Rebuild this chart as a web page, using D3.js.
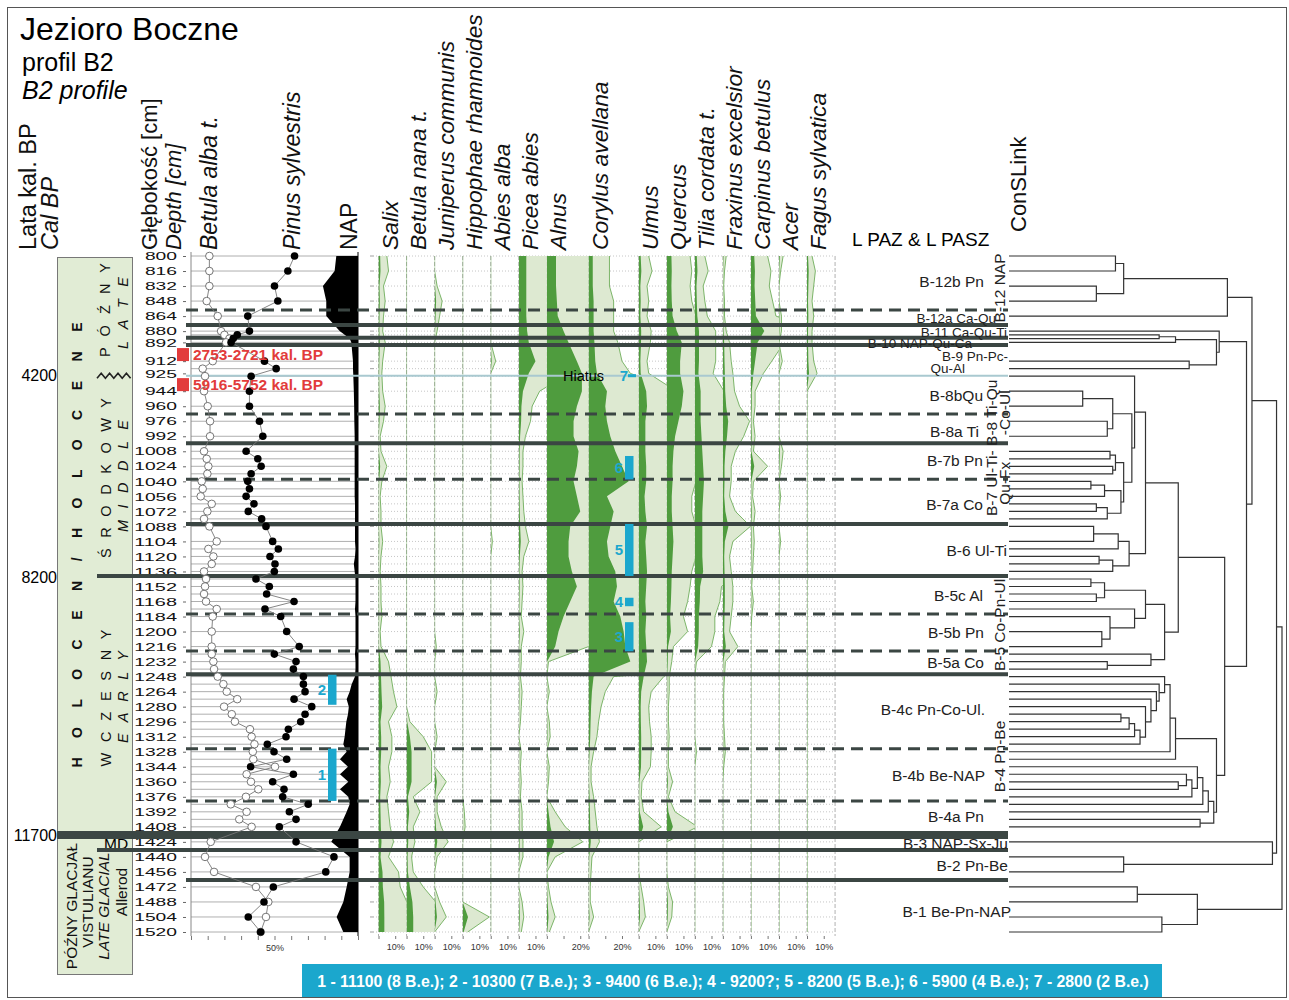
<!DOCTYPE html>
<html>
<head>
<meta charset="utf-8">
<script src="https://cdn.jsdelivr.net/npm/d3@7"></script>
<style>
  body { margin: 0; background: #fff; }
  svg { display: block; }
  text { font-family: Arial, "Liberation Sans", sans-serif; }
</style>
</head>
<body>
<div id="chart"></div>
<script>
// depth labels (cm); the pollen taxa are read at these depths too
const depthTicks = [800, 816, 832, 848, 864, 880, 892, 912, 925, 944, 960, 976, 992, 1008, 1024, 1040, 1056, 1072, 1088, 1104, 1120, 1136, 1152, 1168, 1184, 1200, 1216, 1232, 1248, 1264, 1280, 1296, 1312, 1328, 1344, 1360, 1376, 1392, 1408, 1424, 1440, 1456, 1472, 1488, 1504, 1520];
const taxaDepths = depthTicks;

// samples of the Betula / Pinus / NAP curves
const bpDepths = [800, 816, 832, 848, 864, 880, 884, 888, 892, 912, 920, 928, 944, 960, 976, 992, 1008, 1016, 1024, 1032, 1040, 1048, 1056, 1064, 1072, 1080, 1088, 1104, 1112, 1120, 1128, 1136, 1144, 1152, 1160, 1168, 1176, 1184, 1200, 1216, 1224, 1232, 1240, 1248, 1256, 1264, 1272, 1280, 1288, 1296, 1304, 1312, 1320, 1328, 1336, 1344, 1352, 1360, 1368, 1376, 1384, 1392, 1400, 1408, 1424, 1440, 1456, 1472, 1488, 1504, 1520];
const betula = [11, 11, 11, 9.4, 16, 18, 20, 23, 21, 13, 7, 8.4, 7.8, 10, 11.4, 11.4,
  7.8, 9.4, 10.4, 9.8, 6.4, 7, 5.8, 12.4, 9.8, 7.8, 11,
  15.4, 10.4, 13.4, 12.4, 7.8, 9, 8.4, 7.8, 9, 15.4, 13, 12.4,
  12.4, 12.4, 13.4, 13.8, 16, 19.4, 21.4, 27.7, 19.8, 24.4, 26.3, 35.3, 36.3, 38, 37, 37.3, 50.3, 33.3, 35.9, 40.3, 32.9, 23.8, 33.3, 28.9, 36.3,
  11.8, 8.4, 13.8, 38.9, 46.3, 44.9, 41.7];
const pinus = [62, 58, 50, 52, 34, 35, 27.7, 25.3, 24, 44, 51, 36, 35, 35, 41, 43,
  33, 40, 42, 36, 34, 35, 33, 37.7, 34.3, 42.3, 44.9,
  48.9, 52.3, 47.3, 50.3, 49.9, 38.9, 46.9, 45.3, 61.7, 44.3, 53.7, 57.3,
  64.8, 49.9, 62.9, 61.3, 67.3, 67.3, 68.3, 61.7, 72.3, 68.3, 65.7, 58.3, 56.9, 45.7, 49.7, 57.3, 35.7, 61.3, 48.9, 55.7, 54.9, 70.2, 58.9, 62.9, 52.9,
  62.9, 85.6, 80.7, 49.3, 43.7, 34.3, 41.7];
const nap = [13, 14, 21, 19, 19, 11, 8, 5, 4, 3, 3, 2.8, 2.5, 2.3, 2.2, 2,
  2, 2, 2, 2, 2, 2, 2, 1.8, 1.8, 1.8, 1.8,
  1.8, 1.5, 1.8, 2.5, 2, 1.5, 1.5, 1.5, 1.5, 1.8, 1.5, 1.5,
  1.5, 1.8, 1.5, 1.5, 1.8, 3.8, 5, 6.8, 5.5, 6, 7, 7.5, 8, 8.8, 6.8, 10.8, 6, 10.8, 5.8, 10.8, 5.8, 5, 6.8, 8.8, 10.8,
  16, 5, 5, 6.8, 8.8, 12.8, 8.8];

// pollen taxa (%), one value per taxaDepths entry
const taxa = ["Salix", "Betula nana t.", "Juniperus communis", "Hippophae rhamnoides", "Abies alba", "Picea abies", "Alnus", "Corylus avellana", "Ulmus", "Quercus", "Tilia cordata t.", "Fraxinus excelsior", "Carpinus betulus", "Acer", "Fagus sylvatica"];
const salix = [1, 1.2, 0.6, 0.8, 0.6, 0.5, 0.8, 0.5, 0.4, 0.5, 0.8, 0.6, 0.2, 0.3, 1, 0.4, 0.2, 0.3, 0.3, 0.5, 0.3, 0.2, 0.3, 0.3, 0.4, 0.2, 0.3, 1.2, 1.5, 1.8, 2.2, 1.2, 1.6, 1.6, 1.2, 1.4, 1, 1.2, 1.4, 1.8, 1.2, 2.4, 2.6, 3.4, 3.5, 3.5];
const betulaNana = [0, 0, 0, 0, 0, 0, 0, 0, 0, 0, 0, 0, 0, 0, 0, 0, 0, 0, 0, 0, 0, 0, 0, 0, 0, 0, 0, 0, 0, 0, 0, 0.4, 2, 3, 3, 3, 0.8, 1.6, 0.8, 1, 0.6, 0.8, 2, 3.5, 4, 4];
const juniperus = [0, 0, 0.3, 0.9, 0.6, 0.3, 0, 0, 0, 0, 0, 0, 0, 0, 0, 0, 0, 0, 0, 0, 0, 0, 0, 0, 0, 0, 0.2, 0, 0, 0.3, 0, 0, 0.3, 0, 0, 1.4, 0.3, 0.3, 0.8, 1.6, 0.3, 0, 0, 0.6, 1.4, 0];
const hippophae = [0, 0, 0, 0, 0, 0, 0, 0, 0, 0, 0, 0, 0, 0, 0, 0, 0, 0, 0, 0, 0, 0, 0, 0, 0, 0, 0, 0, 0, 0, 0, 0, 0, 0, 0, 0, 0, 0.2, 0.3, 0, 0, 0, 0, 0, 3.2, 0.6];
const abies = [0, 0, 0, 0, 0, 0, 0, 0.6, 0, 0, 0, 0, 0, 0, 0, 0, 0, 0, 0, 0.2, 0, 0, 0, 0, 0, 0, 0, 0, 0, 0, 0, 0, 0, 0, 0, 0, 0, 0, 0, 0, 0, 0, 0, 0, 0, 0];
const picea = [4.5, 4.5, 4.5, 4.5, 4.5, 5, 6, 10, 6, 2.5, 1.6, 1.4, 0.8, 0.5, 0.5, 0.4, 0.5, 0.6, 0.8, 1.2, 0.6, 0.4, 0.5, 0.4, 0.3, 0.6, 0.3, 0.3, 0.2, 0.4, 0.3, 0.2, 0, 0.3, 0.2, 0.3, 0.2, 0.4, 0.4, 0.5, 0.5, 0, 0, 0.4, 0.6, 0.3];
const alnus = [5.5, 5.5, 5.5, 6, 6.5, 10, 13, 18, 21, 21, 18, 16, 16, 19, 18, 16, 18, 20, 14, 13, 13, 15, 18, 14, 10, 7, 5, 0.2, 0, 0.3, 0, 0.3, 0.4, 0, 0.3, 0.2, 0, 1, 2.2, 4.3, 1, 0, 0.2, 0.5, 1, 0.3];
const corylus = [2.5, 2.5, 2.5, 3, 3, 3, 3.5, 4, 5, 11, 10, 11, 13, 16, 20, 24, 11, 15, 13, 11, 12, 16, 17, 15, 19, 21, 22, 25, 3, 2, 1.5, 1.2, 1, 0.6, 0.3, 0.3, 0.6, 0.8, 1, 1.3, 0.4, 0.3, 0.2, 0.2, 0.6, 0];
const ulmus = [1.2, 1.6, 1, 1.2, 1, 1.5, 1.4, 1, 1.2, 4.5, 5, 4, 4, 4, 4.5, 4.5, 3.5, 4, 5, 4, 4.5, 5, 4.5, 4, 4.5, 4, 4.5, 5, 3, 1.5, 1.2, 1.3, 1.5, 1.5, 1.4, 0.4, 0.3, 0.6, 2.7, 0, 0, 0, 0.3, 0.6, 0.8, 0];
const quercus = [2.8, 3, 2.8, 3, 3.5, 6, 9, 8, 8, 10, 9, 7, 5, 4, 3.5, 3.5, 3, 3, 3.5, 4, 3.5, 3, 2.8, 2.5, 2, 2.5, 0.8, 0.6, 0.3, 0.3, 0.2, 0.2, 0.3, 0.2, 0.2, 0.7, 0.2, 1, 3.7, 0, 0, 0, 0.2, 0.7, 0.6, 0];
const tilia = [1.2, 1.6, 1, 1.2, 1.5, 2.5, 2.5, 2.5, 2.2, 3.5, 3.5, 3.5, 4, 4.5, 5, 5.5, 5, 4.5, 4.5, 4.5, 4.5, 5, 3.2, 3, 2.4, 2.4, 2, 0.2, 0, 0, 0, 0, 0, 0.2, 0, 0, 0, 0, 0, 0, 0, 0, 0, 0, 0, 0];
const fraxinus = [0.4, 0.2, 0.1, 0.2, 0.2, 0.4, 0.8, 1, 1.2, 1.4, 2, 3.2, 2.5, 1.5, 1, 1, 0.8, 1.5, 3.3, 1.2, 0.8, 1, 1.2, 1.2, 1, 0.8, 1.8, 0.3, 0.2, 0.1, 0.1, 0.1, 0.2, 0.3, 0.1, 0, 0, 0, 0, 0, 0, 0, 0, 0, 0, 0];
const carpinus = [2, 2.4, 2.2, 2.6, 3, 8, 4, 2.5, 1.5, 0.5, 0.5, 0.3, 0.5, 0.3, 2, 0.3, 0.2, 0.5, 0.3, 0.4, 0.3, 0.2, 0.1, 0.3, 0.1, 0, 0, 0, 0, 0, 0, 0, 0, 0, 0, 0, 0, 0, 0, 0, 0, 0, 0, 0, 0, 0];
const acer = [0.5, 0.2, 0, 0, 0.3, 0.3, 0, 0.4, 0, 0, 0, 0, 0, 0.5, 0.3, 0, 0.2, 0, 0, 0.2, 0, 0, 0, 0, 0, 0, 0, 0, 0, 0, 0, 0, 0, 0, 0, 0, 0, 0, 0, 0, 0, 0, 0, 0, 0, 0];
const fagus = [0.6, 1, 0.8, 0.6, 0.8, 0.6, 0.6, 0.8, 1.2, 0, 0, 0, 0, 0, 0, 0, 0, 0, 0, 0, 0, 0, 0, 0, 0, 0, 0, 0, 0, 0, 0, 0, 0, 0, 0, 0, 0, 0, 0, 0, 0, 0, 0, 0, 0, 0];
const taxaSeries = [salix, betulaNana, juniperus, hippophae, abies, picea, alnus, corylus, ulmus, quercus, tilia, fraxinus, carpinus, acer, fagus];
const taxaScaleLabel = [10, 10, 10, 10, 10, 10, 20, 20, 10, 10, 10, 10, 10, 10, 10];

// zone boundaries (depth in cm)
const zoneLines = [
  {depth: 857.5, type: "dash"}, {depth: 873.5, type: "solid"}, {depth: 887, type: "solid"},
  {depth: 894.8, type: "solid"}, {depth: 927.5, type: "hiatus"}, {depth: 968.3, type: "dash"},
  {depth: 999.5, type: "solid"}, {depth: 1037.8, type: "dash"}, {depth: 1085.4, type: "solid"},
  {depth: 1140.8, type: "solid", long: true}, {depth: 1181.3, type: "dash"}, {depth: 1220.7, type: "dash"},
  {depth: 1245.5, type: "solid"}, {depth: 1324.7, type: "dash"}, {depth: 1380.4, type: "dash"},
  {depth: 1416.6, type: "thick"}, {depth: 1432.6, type: "solid", long: true}, {depth: 1464.5, type: "solid"}
];
const zoneLabels = [
  {text: "B-12b Pn", depth: 826.6}, {text: "B-12a Ca-Qu", depth: 866}, {text: "B-11 Ca-Qu-Ti", depth: 880.9},
  {text: "B-10 NAP-Qu-Ca", depth: 892.7}, {text: "B-9 Pn-Pc-", depth: 906.5}, {text: "Qu-Al", depth: 919.3},
  {text: "B-8bQu", depth: 948}, {text: "B-8a Ti", depth: 986.4}, {text: "B-7b Pn", depth: 1017.3},
  {text: "B-7a Co", depth: 1064.1}, {text: "B-6 Ul-Ti", depth: 1113.1}, {text: "B-5c Al", depth: 1161.1},
  {text: "B-5b Pn", depth: 1200.5}, {text: "B-5a Co", depth: 1232.5}, {text: "B-4c Pn-Co-Ul.", depth: 1282.5},
  {text: "B-4b Be-NAP", depth: 1352.8}, {text: "B-4a Pn", depth: 1396.4}, {text: "B-3 NAP-Sx-Ju", depth: 1425.2},
  {text: "B-2 Pn-Be", depth: 1448.6}, {text: "B-1 Be-Pn-NAP", depth: 1497.6}
];
const zoneGroups = [
  {lines: ["B-12 NAP"], depth: 834}, {lines: ["B-8 Ti-Qu", "-Co-Ul"], depth: 967},
  {lines: ["B-7 Ul-Ti-", "Qu-Fx"], depth: 1042}, {lines: ["B-5 Co-Pn-Ul"], depth: 1193},
  {lines: ["B-4 Pn-Be"], depth: 1333}
];
const ageLabels = [{age: "4200", depth: 927.5}, {age: "8200", depth: 1142}, {age: "11700", depth: 1417}];
const dates = [{label: "2753-2721 kal. BP", depth: 905}, {label: "5916-5752 kal. BP", depth: 937}];
const eventBars = [
  {n: "1", top: 1324.7, bottom: 1380.4, track: 0}, {n: "2", top: 1246, bottom: 1278, track: 0},
  {n: "3", top: 1190, bottom: 1221, track: 1}, {n: "4", top: 1164, bottom: 1173, track: 1},
  {n: "5", top: 1085.4, bottom: 1140.8, track: 1}, {n: "6", top: 1013, bottom: 1038, track: 1}
];
const event7Depth = 927.5;
const legendText = "1 - 11100 (8 B.e.); 2 - 10300 (7 B.e.); 3 - 9400 (6 B.e.); 4 - 9200?; 5 - 8200 (5 B.e.); 6 - 5900 (4 B.e.); 7 - 2800 (2 B.e.)";

// CONISS dendrogram: [height, childA, childB], leaves are sample depths
const treeB12 = [80, [42, [39, 800, 816], [32, 832, 848]], 864];
const treeB9 = [77, 880, [76, [61, [55, 884, 888], 892], [66, 912, 920]]];
const treeB8B7 = [46, 928, [45, [38, [27, 944, 960], [36, 976, 992]], [42, [39, [37, 1008, 1016], [38, 1024, 1032]], [41, [35, [30, 1040, 1048], 1056], [36, [32, 1064, 1072], 1080]]]]];
const treeB6 = [44, [40, [31, 1088, 1104], 1112], [38, [33, 1120, 1128], 1136]];
const treeB5 = [57, [50, [35, [30, 1144, 1152], [32, 1160, 1168]], [46, 1176, [37, 1184, [34, 1200, 1216]]]], [52, 1224, [36, 1232, 1240]]];
const treeB4c = [61, [59, [57, 1248, [55, 1256, [54, 1264, [52, 1272, [50, 1280, [48, [46, [44, [41, 1288, 1296], 1304], 1312], 1320]]]]]], 1328], 1336];
const treeB4b = [75, [73, [71, [69, [67, [65, [62, 1360, 1368], 1352], 1376], 1344], 1384], 1392], [70, 1400, 1408]];
const treeB3B2 = [96.5, 1424, [42, 1440, 1456]];
const treeB1 = [69, [47, 1472, 1488], [56, 1504, 1520]];
const dendrogram = [100, [98, [89, treeB12, [87, treeB9, [79, [62, [50, treeB8B7, treeB6], treeB5], [76, treeB4c, treeB4b]]]], treeB3B2], treeB1];

// ---- layout ----
const W = 1289, H = 1000;
const colors = {dark: "#4f9c3e", light: "#dde9d1", outline: "#6fae5b", line: "#3b4643", cyan: "#1ba7cd", red: "#e23b3b", box: "#e1ecd5"};
const y = d3.scaleLinear().domain([800, 1520]).range([256, 932]);
const pct = d3.scaleLinear().domain([0, 100]).range([0, 167]);
const bpX0 = 191, bpX1 = 358;
const colSpan = [16.8, 16.8, 16.8, 16.8, 16.8, 16.8, 25, 30, 16.8, 16.8, 16.8, 16.8, 16.8, 16.8, 16.8];
const colBase = [];
colSpan.reduce((x, s) => { colBase.push(x); return x + pct(s); }, 378.5);
const pollenEnd = colBase[14] + pct(colSpan[14]);
const exag = 5;
const zoneEndX = 1008;
const dx = d3.scaleLinear().domain([0, 100]).range([1009, 1282]);

const svg = d3.select("#chart").append("svg").attr("width", W).attr("height", H);
const defs = svg.append("defs");

// frame
svg.append("rect").attr("x", 7.5).attr("y", 7.5).attr("width", 1279).attr("height", 990)
  .attr("fill", "none").attr("stroke", "#555").attr("stroke-width", 1);

// title
svg.append("text").attr("x", 20).attr("y", 40).attr("font-size", 32).text("Jezioro Boczne");
svg.append("text").attr("x", 22).attr("y", 71).attr("font-size", 25).text("profil B2");
svg.append("text").attr("x", 22).attr("y", 99).attr("font-size", 25).attr("font-style", "italic").text("B2 profile");

// rotated text helper
function vtext(x, yy, str, size, opts = {}) {
  const t = svg.append("text")
    .attr("transform", `translate(${x},${yy}) rotate(-90)`)
    .attr("font-size", size)
    .attr("text-anchor", opts.anchor || "start")
    .attr("fill", opts.fill || "#111")
    .text(str);
  if (opts.italic) t.attr("font-style", "italic");
  if (opts.bold) t.attr("font-weight", "bold");
  if (opts.len) t.attr("textLength", opts.len).attr("lengthAdjust", "spacing");
  return t;
}

// column headers
vtext(36, 250, "Lata kal. BP", 23.5);
vtext(58, 250, "Cal BP", 23.5, {italic: true});
vtext(157, 250, "Głębokość [cm]", 22);
vtext(181, 250, "Depth [cm]", 22, {italic: true});
vtext(217, 250, "Betula alba t.", 23, {italic: true});
vtext(300, 250, "Pinus sylvestris", 23, {italic: true});
vtext(357, 250, "NAP", 23);
taxa.forEach((name, i) => vtext(colBase[i] + 19, 250, name, 22.8, {italic: true}));
svg.append("text").attr("x", 852).attr("y", 246).attr("font-size", 19).text("L PAZ & L PASZ");
vtext(1026, 232, "ConSLink", 22);

// chronostratigraphy box
svg.append("rect").attr("x", 57.5).attr("y", 257.5).attr("width", 75).attr("height", 717)
  .attr("fill", colors.box).attr("stroke", "#777");
vtext(82, 545, "H O L O C E N / H O L O C E N E", 14, {bold: true, anchor: "middle", len: 445});
vtext(110, 310, "P Ó Ź N Y", 14.5, {anchor: "middle", len: 94});
vtext(128, 313, "L A T E", 14.5, {anchor: "middle", italic: true, len: 72});
vtext(111, 478, "Ś R O D K O W Y", 14.5, {anchor: "middle", len: 160});
vtext(128, 476, "M I D D L E", 14.5, {anchor: "middle", italic: true, len: 112});
vtext(111, 698, "W C Z E S N Y", 14.5, {anchor: "middle", len: 137});
vtext(128, 697, "E A R L Y", 14.5, {anchor: "middle", italic: true, len: 92});
vtext(77, 906, "PÓŹNY GLACJAŁ", 15.5, {anchor: "middle"});
vtext(93, 902, "VISTULIANU", 15.5, {anchor: "middle"});
vtext(109, 906, "LATE GLACIAL", 15.5, {anchor: "middle", italic: true});
vtext(127, 892, "Allerod", 15.5, {anchor: "middle"});
svg.append("text").attr("x", 104).attr("y", 849).attr("font-size", 15.5).text("MD");
// hiatus zigzag
const zz = d3.range(0, 9).map(i => [97 + i * 4.2, y(event7Depth) + (i % 2 ? -2.5 : 2.5)]);
svg.append("path").attr("d", d3.line()(zz)).attr("fill", "none").attr("stroke", "#222").attr("stroke-width", 1.6);

// age labels
ageLabels.forEach(a => svg.append("text").attr("x", 57).attr("y", y(a.depth)).attr("dy", "0.35em")
  .attr("text-anchor", "end").attr("font-size", 16).text(a.age));

// depth axis
const depthAxis = svg.append("g").attr("transform", "translate(186,0)")
  .call(d3.axisLeft(y).tickValues(depthTicks).tickSize(3).tickPadding(6).tickFormat(d3.format("d")));
depthAxis.select(".domain").remove();
depthAxis.selectAll(".tick line").attr("stroke", "#666");
depthAxis.selectAll(".tick text").attr("font-size", 11.5).attr("fill", "#111")
  .attr("font-family", "Arial, 'Liberation Sans', sans-serif")
  .attr("textLength", d => String(d).length * 10.7).attr("lengthAdjust", "spacingAndGlyphs");

// Betula / Pinus panel grid
svg.append("g").selectAll("line").data(bpDepths).join("line")
  .attr("x1", bpX0).attr("x2", bpX1).attr("y1", d => y(d)).attr("y2", d => y(d))
  .attr("stroke", "#9a9a9a").attr("stroke-width", 0.8);
svg.append("line").attr("x1", bpX0).attr("x2", bpX0).attr("y1", 252).attr("y2", 936).attr("stroke", "#888");
const bpAxis = svg.append("g").attr("transform", "translate(0,936)")
  .call(d3.axisBottom(d3.scaleLinear().domain([0, 100]).range([bpX0, bpX1]))
    .tickValues(d3.range(0, 101, 10)).tickSize(4).tickFormat(d => d === 50 ? "50%" : ""));
bpAxis.select(".domain").remove();
bpAxis.selectAll(".tick line").attr("stroke", "#777");
bpAxis.selectAll(".tick text").attr("font-size", 9).attr("fill", "#333").attr("dy", "0.9em");

// pollen panel grid
svg.append("g").selectAll("line").data(bpDepths).join("line")
  .attr("x1", 376).attr("x2", pollenEnd).attr("y1", d => y(d)).attr("y2", d => y(d))
  .attr("stroke", "#b8b8b8").attr("stroke-width", 0.8).attr("stroke-dasharray", "1,2");
svg.append("g").selectAll("line").data(bpDepths).join("line")
  .attr("x1", 370).attr("x2", 374).attr("y1", d => y(d)).attr("y2", d => y(d))
  .attr("stroke", "#888").attr("stroke-width", 0.8);
svg.append("g").selectAll("line").data(colBase.concat([pollenEnd])).join("line")
  .attr("x1", d => d).attr("x2", d => d).attr("y1", 256).attr("y2", 936)
  .attr("stroke", "#a8a8a8").attr("stroke-width", 0.9).attr("stroke-dasharray", "4,2");

// NAP (black, from the right edge)
const bpPts = bpDepths.map((d, i) => ({d, b: betula[i], p: pinus[i], n: nap[i]}));
svg.append("path").datum(bpPts)
  .attr("d", d3.area().y(p => y(p.d)).x0(bpX1).x1(p => bpX1 - pct(p.n)))
  .attr("fill", "#000");
svg.append("line").attr("x1", bpX1).attr("x2", bpX1).attr("y1", 252).attr("y2", 936).attr("stroke", "#000");

// pollen curves: exaggerated (x5, light) and real (dark)
taxa.forEach((name, i) => {
  const x0 = colBase[i], w = pct(colSpan[i]);
  defs.append("clipPath").attr("id", "clip" + i).append("rect")
    .attr("x", x0).attr("y", 250).attr("width", w).attr("height", 690);
  const g = svg.append("g").attr("clip-path", `url(#clip${i})`);
  const pts = taxaDepths.map((d, k) => ({d, v: taxaSeries[i][k]}));
  g.append("path").datum(pts)
    .attr("d", d3.area().y(p => y(p.d)).x0(x0).x1(p => x0 + pct(p.v * exag)))
    .attr("fill", colors.light);
  g.append("path").datum(pts)
    .attr("d", d3.line().x(p => x0 + pct(p.v * exag)).y(p => y(p.d)))
    .attr("fill", "none").attr("stroke", colors.outline).attr("stroke-width", 0.9);
  g.append("path").datum(pts)
    .attr("d", d3.area().y(p => y(p.d)).x0(x0).x1(p => x0 + pct(p.v)))
    .attr("fill", colors.dark);
  // bottom scale
  const ax = svg.append("g").attr("transform", "translate(0,936)")
    .call(d3.axisBottom(d3.scaleLinear().domain([0, 100]).range([x0, x0 + 167]))
      .tickValues(d3.range(0, colSpan[i], 10)).tickSize(3)
      .tickFormat(d => d === taxaScaleLabel[i] ? d + "%" : ""));
  ax.select(".domain").remove();
  ax.selectAll(".tick line").attr("stroke", "#777");
  ax.selectAll(".tick text").attr("font-size", 9).attr("fill", "#333").attr("dy", "0.9em");
});

// zone boundaries
zoneLines.forEach(z => {
  const x1 = z.type === "thick" ? 57 : (z.long ? 97 : 186);
  const l = svg.append("line").attr("x1", x1).attr("x2", zoneEndX)
    .attr("y1", y(z.depth)).attr("y2", y(z.depth));
  if (z.type === "dash") l.attr("stroke", colors.line).attr("stroke-width", 3).attr("stroke-dasharray", "12,7");
  else if (z.type === "solid") l.attr("stroke", colors.line).attr("stroke-width", 4);
  else if (z.type === "thick") l.attr("stroke", colors.line).attr("stroke-width", 8);
  else l.attr("stroke", "#a9c9d0").attr("stroke-width", 2);
});

// Betula (white) and Pinus (black) curves
const lineFor = key => d3.line().x(p => bpX0 + pct(p[key])).y(p => y(p.d));
svg.append("path").datum(bpPts).attr("d", lineFor("b")).attr("fill", "none").attr("stroke", "#777").attr("stroke-width", 0.9);
svg.append("path").datum(bpPts).attr("d", lineFor("p")).attr("fill", "none").attr("stroke", "#777").attr("stroke-width", 0.9);
svg.append("g").selectAll("circle").data(bpPts).join("circle")
  .attr("cx", p => bpX0 + pct(p.b)).attr("cy", p => y(p.d)).attr("r", 3.8)
  .attr("fill", "#fff").attr("stroke", "#666").attr("stroke-width", 0.9);
svg.append("g").selectAll("circle").data(bpPts).join("circle")
  .attr("cx", p => bpX0 + pct(p.p)).attr("cy", p => y(p.d)).attr("r", 3.8)
  .attr("fill", "#000");

// radiocarbon dates
dates.forEach(dt => {
  svg.append("rect").attr("x", 177).attr("y", y(dt.depth) - 6.5).attr("width", 12).attr("height", 13).attr("fill", colors.red);
  svg.append("text").attr("x", 193).attr("y", y(dt.depth)).attr("dy", "0.36em")
    .attr("font-size", 15.5).attr("font-weight", "bold").attr("fill", colors.red).text(dt.label);
});

// hiatus and event markers
svg.append("text").attr("x", 563).attr("y", y(event7Depth)).attr("dy", "0.36em").attr("font-size", 14.5).text("Hiatus");
svg.append("text").attr("x", 628).attr("y", y(event7Depth)).attr("dy", "0.36em").attr("text-anchor", "end")
  .attr("font-size", 15).attr("font-weight", "bold").attr("fill", colors.cyan).text("7");
svg.append("rect").attr("x", 628).attr("y", y(event7Depth) - 1.5).attr("width", 8).attr("height", 3).attr("fill", colors.cyan);
const trackX = [328, 625];
eventBars.forEach(e => {
  const tx = trackX[e.track];
  svg.append("rect").attr("x", tx).attr("y", y(e.top)).attr("width", 8.5).attr("height", y(e.bottom) - y(e.top)).attr("fill", colors.cyan);
  svg.append("text").attr("x", tx - 2).attr("y", (y(e.top) + y(e.bottom)) / 2).attr("dy", "0.36em")
    .attr("text-anchor", "end").attr("font-size", 15).attr("font-weight", "bold").attr("fill", colors.cyan).text(e.n);
});

// zone labels (the crowded B-12a..B-9 labels are a little smaller)
const zoneLabelEnd = [984, 996, 1007, 972, 1008, 965, 983, 979, 983, 983, 1007, 983, 984, 984, 985, 985, 984, 1008, 1008, 1011];
const zoneLabelSize = [15.5, 13.5, 13.5, 13.5, 13.5, 13.5, 15.5, 15.5, 15.5, 15.5, 15.5, 15.5, 15.5, 15.5, 15.5, 15.5, 15.5, 15.5, 15.5, 15.5];
zoneLabels.forEach((z, i) => svg.append("text").attr("x", zoneLabelEnd[i]).attr("y", y(z.depth)).attr("dy", "0.36em")
  .attr("text-anchor", "end").attr("font-size", zoneLabelSize[i]).attr("fill", "#222").text(z.text));
zoneGroups.forEach(g => {
  const xs = g.lines.length === 1 ? [1005] : [997, 1010];
  g.lines.forEach((t, k) => vtext(xs[k], y(g.depth), t, 15.5, {anchor: "middle", fill: "#222"}));
});

// dendrogram
const dg = svg.append("g").attr("fill", "none").attr("stroke", "#333").attr("stroke-width", 1.2);
function drawNode(node) {
  if (typeof node === "number") return {x: dx(0), y: y(node)};
  const [h, a, b] = node;
  const A = drawNode(a), B = drawNode(b), px = dx(h);
  dg.append("path").attr("d", `M${A.x},${A.y}H${px}V${B.y}H${B.x}`);
  return {x: px, y: (A.y + B.y) / 2};
}
drawNode(dendrogram);

// legend of dated events
svg.append("rect").attr("x", 302).attr("y", 964).attr("width", 860).attr("height", 33).attr("fill", colors.cyan);
svg.append("text").attr("x", 733).attr("y", 981).attr("dy", "0.36em").attr("text-anchor", "middle")
  .attr("font-size", 15.8).attr("font-weight", "bold").attr("fill", "#fff").text(legendText);
</script>
</body>
</html>
